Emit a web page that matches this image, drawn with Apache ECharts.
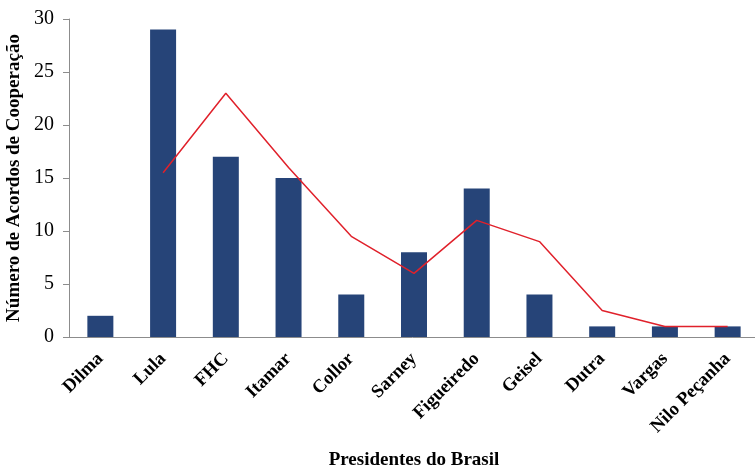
<!DOCTYPE html>
<html>
<head>
<meta charset="utf-8">
<script src="https://cdn.jsdelivr.net/npm/echarts@6/dist/echarts.min.js"></script>
<style>
  html, body { margin: 0; padding: 0; background: #fff; }
  #chart { width: 755px; height: 467px; }
</style>
</head>
<body>
<div id="chart"></div>
<script>
// dados
const presidentes = ['Dilma', 'Lula', 'FHC', 'Itamar', 'Collor', 'Sarney', 'Figueiredo', 'Geisel', 'Dutra', 'Vargas', 'Nilo Peçanha']
const acordos = [2, 29, 17, 15, 4, 8, 14, 4, 1, 1, 1]
// linha vermelha (média móvel de 2 períodos)
const mediaMovel = ['-', 15.5, 23, 16, 9.5, 6, 11, 9, 2.5, 1, 1]

const serif = '"Liberation Serif", "Times New Roman", serif'
const chart = echarts.init(document.getElementById('chart'))

chart.setOption({
  animation: false,
  grid: { left: 69, right: -4, top: 19, bottom: 130, outerBoundsMode: 'none', containLabel: false },
  xAxis: {
    type: 'category',
    data: presidentes,
    name: 'Presidentes do Brasil',
    nameLocation: 'middle',
    nameGap: 114,
    nameTextStyle: { fontFamily: serif, fontWeight: 'bold', fontSize: 19, color: '#000' },
    axisLine: { lineStyle: { color: '#8c8c8c', width: 1 } },
    axisTick: { alignWithLabel: false, length: 5, lineStyle: { color: '#8c8c8c' } },
    axisLabel: {
      rotate: 45,
      interval: 0,
      margin: 19,
      fontFamily: serif,
      fontWeight: 'bold',
      fontSize: 18.5,
      color: '#000',
    },
  },
  yAxis: {
    type: 'value',
    min: 0,
    max: 30,
    interval: 5,
    name: 'Número de Acordos de Cooperação',
    nameLocation: 'middle',
    nameGap: 43,
    nameTextStyle: { fontFamily: serif, fontWeight: 'bold', fontSize: 19, color: '#000' },
    splitLine: { show: false },
    axisLine: { show: true, lineStyle: { color: '#8c8c8c', width: 1 } },
    axisTick: { show: true, length: 6, lineStyle: { color: '#8c8c8c' } },
    axisLabel: { fontFamily: serif, fontSize: 20, color: '#000', margin: 15 },
  },
  series: [
    {
      type: 'bar',
      data: acordos,
      barWidth: 26,
      itemStyle: { color: '#264478' },
    },
    {
      type: 'line',
      data: mediaMovel,
      symbol: 'none',
      lineStyle: { color: '#e0212b', width: 1.5 },
    },
  ],
})
</script>
</body>
</html>
